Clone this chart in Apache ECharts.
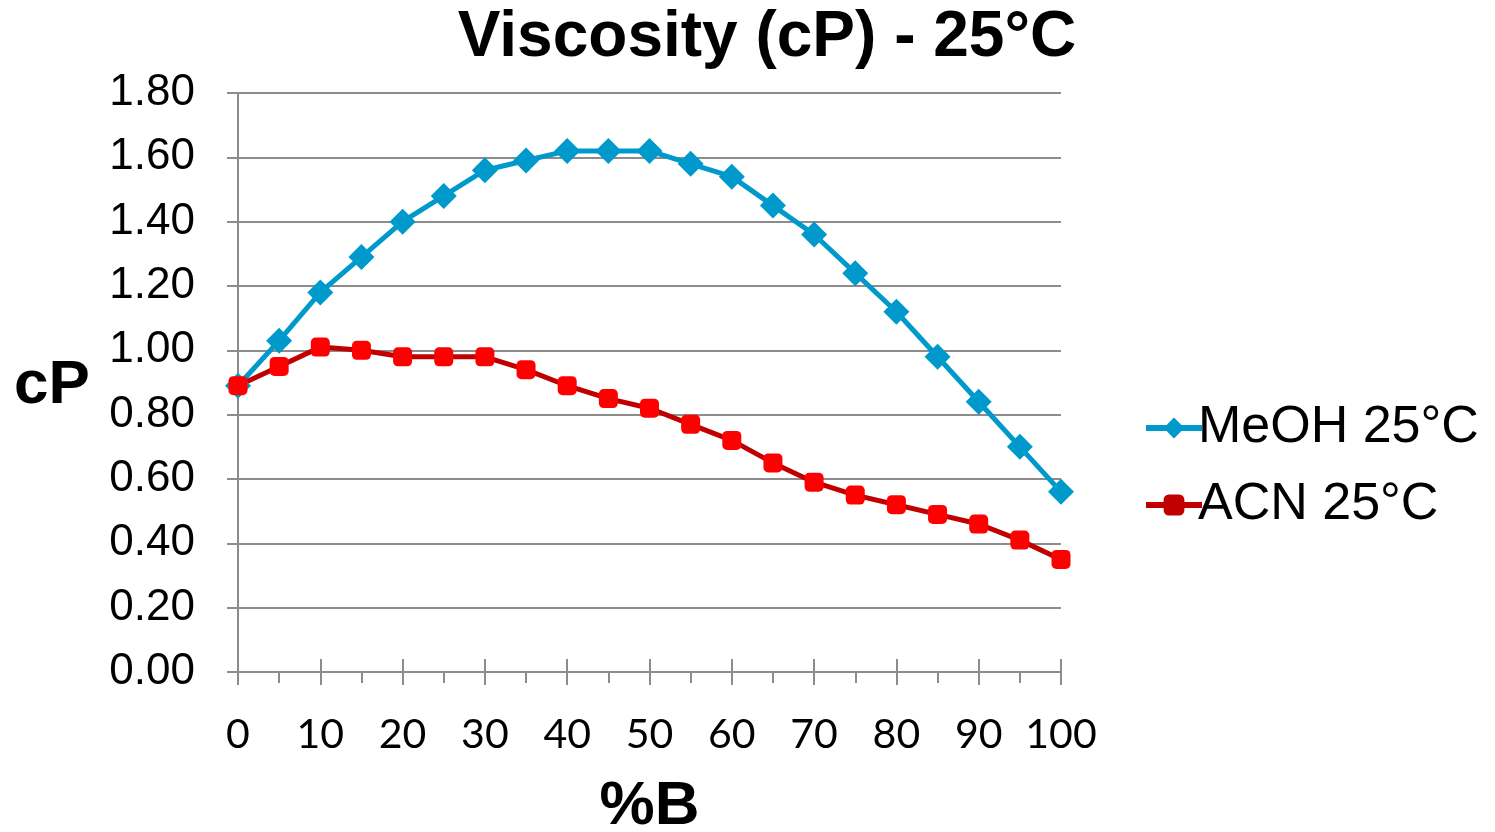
<!DOCTYPE html>
<html>
<head>
<meta charset="utf-8">
<script src="https://cdn.jsdelivr.net/npm/echarts@6/dist/echarts.min.js"></script>
<style>
  html, body { margin: 0; padding: 0; background: #fff; }
  #chart { width: 1495px; height: 832px; }
</style>
</head>
<body>
<div id="chart"></div>
<script>
// Composition (%B) and measured viscosity at 25 °C
const percentB = [0, 5, 10, 15, 20, 25, 30, 35, 40, 45, 50, 55, 60, 65, 70, 75, 80, 85, 90, 95, 100];
const meohViscosity = [0.89, 1.03, 1.18, 1.29, 1.40, 1.48, 1.56, 1.59, 1.62, 1.62, 1.62, 1.58, 1.54, 1.45, 1.36, 1.24, 1.12, 0.98, 0.84, 0.70, 0.56];
const acnViscosity = [0.89, 0.95, 1.01, 1.00, 0.98, 0.98, 0.98, 0.94, 0.89, 0.85, 0.82, 0.77, 0.72, 0.65, 0.59, 0.55, 0.52, 0.49, 0.46, 0.41, 0.35];
const seriesNames = ['MeOH 25°C', 'ACN 25°C'];

const gray = '#8c8c8c';
const pairs = (ys) => percentB.map((x, i) => [x, ys[i]]);

const chart = echarts.init(document.getElementById('chart'), null, { renderer: 'canvas' });
chart.setOption({
  backgroundColor: '#fff',
  animation: false,
  title: {
    text: 'Viscosity (cP) - 25°C',
    left: 762, top: 1, textAlign: 'center',
    textStyle: { fontFamily: 'Liberation Sans, Arial', fontWeight: 'bold', fontSize: 64, color: '#000' }
  },
  graphic: [{
    type: 'text', left: 14, top: 355,
    style: { text: 'cP', font: 'bold 62px "Liberation Sans", Arial', fill: '#000' }
  }],
  legend: {
    orient: 'vertical', left: 1138, top: 397,
    itemWidth: 56, itemHeight: 26, itemGap: 25,
    textStyle: { fontFamily: 'Liberation Sans, Arial', fontSize: 52, color: '#000', padding: [0, 0, 0, -9] },
    data: [
      { name: seriesNames[0], lineStyle: { width: 6 }, itemStyle: { color: '#0099CC' } },
      { name: seriesNames[1], lineStyle: { width: 6, color: '#C00000' }, itemStyle: { color: '#C00000' } }
    ]
  },
  grid: { left: 238, right: 434, top: 93, bottom: 160, containLabel: false, outerBoundsMode: 'none' },
  xAxis: [{
    type: 'value', min: 0, max: 100, interval: 10,
    name: '%B', nameLocation: 'middle', nameGap: 104,
    nameTextStyle: { fontFamily: 'Liberation Sans, Arial', fontWeight: 'bold', fontSize: 62, color: '#000' },
    axisLine: { lineStyle: { color: gray, width: 2 } },
    axisTick: { show: true, length: 13, lineStyle: { color: gray, width: 2 } },
    minorTick: { show: true, splitNumber: 2, length: 11, lineStyle: { color: gray, width: 2 } },
    splitLine: { show: false },
    axisLabel: { margin: 42, fontFamily: 'Lato, Open Sans', fontSize: 41, color: '#000' }
  }, {
    // upper half of the major ticks, crossing the axis line
    type: 'value', min: 0, max: 100, interval: 10, position: 'bottom',
    axisLine: { show: false },
    axisTick: { show: true, inside: true, length: 13, lineStyle: { color: gray, width: 2 } },
    axisLabel: { show: false },
    splitLine: { show: false }
  }],
  yAxis: {
    type: 'value', min: 0, max: 1.8, interval: 0.2,
    axisLine: { show: true, lineStyle: { color: gray, width: 2 } },
    axisTick: { show: true, length: 11, lineStyle: { color: gray, width: 2 } },
    splitLine: { lineStyle: { color: gray, width: 2 } },
    axisLabel: {
      margin: 43, fontFamily: 'Liberation Sans, Arial', fontSize: 44, color: '#000',
      formatter: (v) => v.toFixed(2)
    }
  },
  series: [{
    name: seriesNames[0], type: 'line', xAxisIndex: 0,
    data: pairs(meohViscosity),
    symbol: 'diamond', symbolSize: 26,
    lineStyle: { color: '#0099CC', width: 5 },
    itemStyle: { color: '#0099CC' }
  }, {
    name: seriesNames[1], type: 'line', xAxisIndex: 0,
    data: pairs(acnViscosity),
    symbol: 'roundRect', symbolSize: 19,
    lineStyle: { color: '#C00000', width: 5 },
    itemStyle: { color: '#FF0000' }
  }]
});
</script>
</body>
</html>
